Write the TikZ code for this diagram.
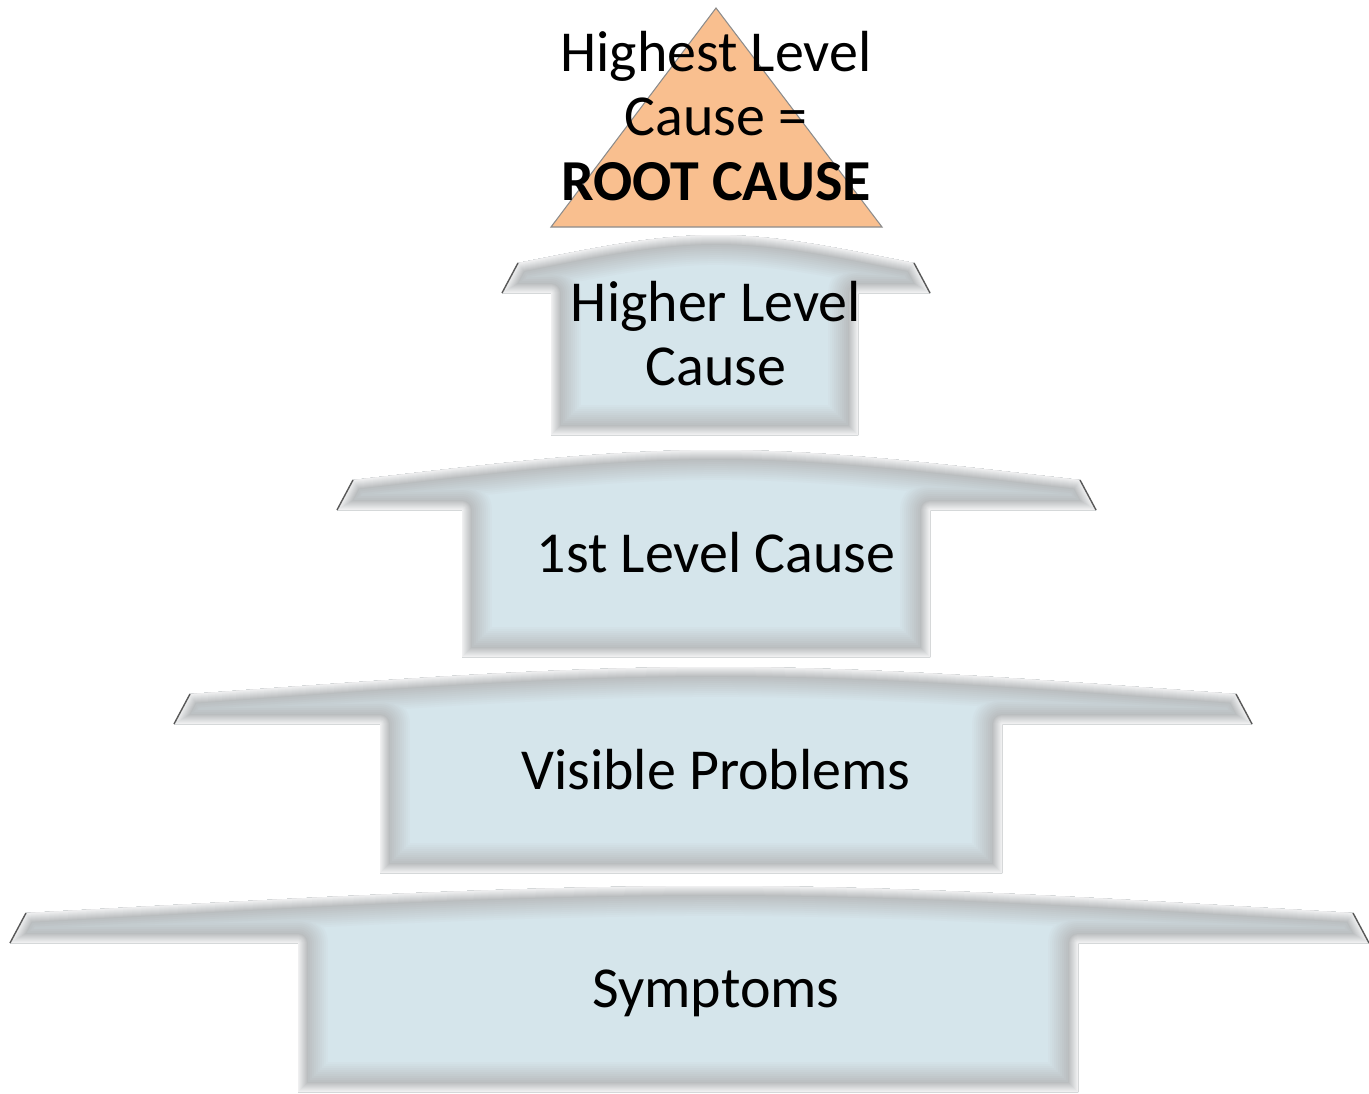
\documentclass[tikz,border=0pt]{standalone}
\usepackage{fontspec}
\setmainfont{Carlito}
\definecolor{rootorange}{RGB}{249,191,143}
\definecolor{levelblue}{RGB}{213,229,235}
\definecolor{levelgray}{RGB}{186,189,191}
\begin{document}
\begin{tikzpicture}[
  x=0.02cm, y=-0.02cm,
  caption/.style={align=center, font=\fontsize{33}{36.5}\selectfont, inner sep=0pt},
  tick/.style={draw=black!65, line width=0.8pt},
  peak/.style={fill=rootorange, draw=black!45, line width=0.6pt}
]
\useasboundingbox (0,0) rectangle (1369,1093);

% the four cause levels, bottom one is the widest
% apex / wing / left tip / right tip / shaft left / shaft right / bottom
\foreach \lvapex/\lvwing/\lvtipl/\lvtipr/\lvshl/\lvshr/\lvbot in {
    235/293/502/930/551/858/435,
    450/510/337/1096/462/930/657,
    667/724/174/1252/380/1002/873,
    886/943/10/1369/298/1078/1092}{
  \pgfmathsetmacro{\lvcy}{\lvwing-30}
  \pgfmathsetmacro{\lvcl}{\lvtipl+16}
  \pgfmathsetmacro{\lvcr}{\lvtipr-16}
  \pgfmathsetmacro{\lvay}{\lvcy-0.45*(\lvcy-\lvapex)}
  \pgfmathsetmacro{\lvrx}{\lvcr-0.33*(\lvcr-716)}
  \pgfmathsetmacro{\lvrxx}{716+0.33*(\lvcr-716)}
  \pgfmathsetmacro{\lvlx}{\lvcl+0.33*(716-\lvcl)}
  \pgfmathsetmacro{\lvlxx}{716-0.33*(716-\lvcl)}
  \def\levelpath{(\lvtipl,\lvwing) -- (\lvshl,\lvwing) -- (\lvshl,\lvbot)
    -- (\lvshr,\lvbot) -- (\lvshr,\lvwing) -- (\lvtipr,\lvwing) -- (\lvcr,\lvcy)
    .. controls (\lvrx,\lvay) and (\lvrxx,\lvapex) .. (716,\lvapex)
    .. controls (\lvlxx,\lvapex) and (\lvlx,\lvay) .. (\lvcl,\lvcy) -- cycle}
  \begin{scope}
    \clip \levelpath;
    \fill[levelblue] \levelpath;
    % soft grey rim: blue -> grey going outwards, then fading to white at the edge
    \foreach \rim in {32,30,...,10}{
      \pgfmathsetmacro{\mixg}{100*(32-\rim)/22}
      \draw[line width=\rim*1.134pt, color=levelgray!\mixg!levelblue, line join=round] \levelpath;
    }
    \foreach \rim in {9,8,...,1}{
      \pgfmathsetmacro{\mixw}{15+85*\rim/10}
      \draw[line width=\rim*1.134pt, color=levelgray!\mixw!white, line join=round] \levelpath;
    }
  \end{scope}
  \draw[tick] (\lvtipl,\lvwing) -- (\lvcl,\lvcy);
  \draw[tick] (\lvtipr,\lvwing) -- (\lvcr,\lvcy);
}

% root cause on top
\draw[peak] (716,8) -- (882,227) -- (551,227) -- cycle;

\node[caption] (root) at (716,116) {Highest Level\\Cause =\\\textbf{ROOT CAUSE}};
\node[caption] (higher) at (716,334) {Higher Level\\Cause};
\node[caption] (first) at (716,553) {1st Level Cause};
\node[caption] (visible) at (716,770) {Visible Problems};
\node[caption] (symptoms) at (716,993) {Symptoms};
\end{tikzpicture}
\end{document}
